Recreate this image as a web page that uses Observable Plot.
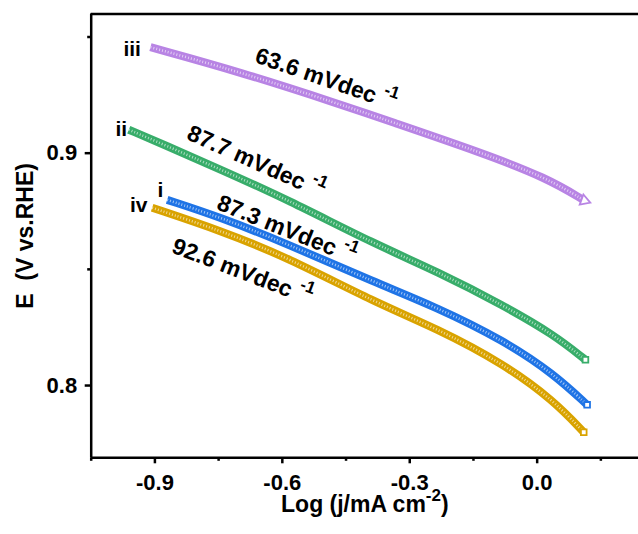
<!DOCTYPE html>
<html><head><meta charset="utf-8">
<script src="https://cdn.jsdelivr.net/npm/d3@7"></script>
<script src="https://cdn.jsdelivr.net/npm/@observablehq/plot@0.6"></script>
<style>body{margin:0;background:#fff;}</style>
</head><body><div id="chart"></div>
<script>
// ---- data ----
const series = ["i", "ii", "iii", "iv"];
const seriesColors = ["#1f74e6", "#38ad6a", "#b884e4", "#d9a300"];

const logJ_i   = [-0.8712, -0.7457, -0.5887, -0.3807, -0.2355, -0.0786, 0.0391, 0.1177];
const E_i      = [0.8799, 0.8724, 0.8610, 0.8443, 0.8336, 0.8194, 0.8050, 0.7917];
const logJ_ii  = [-0.9616, -0.8792, -0.7457, -0.5887, -0.3807, -0.2355, -0.0786, 0.0391, 0.1137];
const E_ii     = [0.9101, 0.9037, 0.8930, 0.8801, 0.8607, 0.8491, 0.8344, 0.8219, 0.8111];
const logJ_iii = [-0.9105, -0.6986, -0.4632, -0.3532, -0.1335, 0.0235, 0.1114];
const E_iii    = [0.9456, 0.9349, 0.9210, 0.9141, 0.9004, 0.8893, 0.8796];
const logJ_iv  = [-0.9065, -0.7457, -0.5887, -0.3807, -0.2355, -0.0786, 0.0391, 0.1097];
const E_iv     = [0.8765, 0.8667, 0.8552, 0.8357, 0.8245, 0.8093, 0.7935, 0.7799];

const slopeLabels     = ["87.3 mVdec ^{-1}", "87.7 mVdec ^{-1}", "63.6 mVdec ^{-1}", "92.6 mVdec ^{-1}"];
const slopeLabelLogJ  = [-0.7575, -0.8281, -0.6673, -0.8630];
const slopeLabelE     = [0.8761, 0.9062, 0.9392, 0.8574];
const slopeLabelAngle = [22, 24, 19, 21];

const nameLabelLogJ = [-0.8870, -0.9654, -0.9329, -0.9176];
const nameLabelE    = [0.8811, 0.9076, 0.9420, 0.8746];
const nameAnchor    = ["middle", "end", "end", "end"];

const xMajorTicks = [-0.9, -0.6, -0.3, 0.0];
const xMinorTicks = [-1.05, -0.75, -0.45, -0.15, 0.15];
const yMajorTicks = [0.8, 0.9];
const yMinorTicks = [0.85, 0.95];
const xDomain = [-1.05, 0.2386];
const yDomain = [0.7689, 0.9599];
const xTitle = "Log (j/mA cm^{-2})";
const yTitle = "E  (V vs.RHE)";

// ---- build tables ----
const logJs = [logJ_i, logJ_ii, logJ_iii, logJ_iv];
const Es = [E_i, E_ii, E_iii, E_iv];
const rows = [];
series.forEach((s, k) => logJs[k].forEach((x, j) => rows.push({series: s, logJ: x, E: Es[k][j]})));
const lastRows = series.map((s, k) => ({series: s, logJ: logJs[k][logJs[k].length - 1], E: Es[k][Es[k].length - 1]}));
const slopeRows = series.map((s, k) => ({series: s, text: slopeLabels[k], logJ: slopeLabelLogJ[k], E: slopeLabelE[k], angle: slopeLabelAngle[k]}));
const nameRows = series.map((s, k) => ({series: s, logJ: nameLabelLogJ[k], E: nameLabelE[k], anchor: nameAnchor[k]}));

const font = "Liberation Sans, Arial, Helvetica, sans-serif";

const chart = Plot.plot({
  width: 638, height: 534,
  marginLeft: 90.7, marginRight: 0, marginTop: 13.5, marginBottom: 76.7,
  x: {domain: xDomain, label: null},
  y: {domain: yDomain, label: null},
  color: {domain: series, range: seriesColors},
  style: {fontFamily: font, background: "white", color: "black", overflow: "visible"},
  marks: [
    Plot.line(rows, {x: "logJ", y: "E", z: "series", stroke: "series", strokeWidth: 8, curve: "basis", strokeLinecap: "butt"}),
    Plot.line(rows, {x: "logJ", y: "E", z: "series", stroke: "white", strokeWidth: 2.6, strokeDasharray: "1 2", strokeOpacity: 0.6, curve: "basis", strokeLinecap: "butt"}),
    Plot.dot(lastRows.filter(d => d.series !== "iii"), {x: "logJ", y: "E", symbol: "square", r: 3.2, stroke: "series", fill: "white", strokeWidth: 1.8}),
    Plot.dot(lastRows.filter(d => d.series === "iii"), {x: "logJ", y: "E", symbol: "triangle", r: 4, stroke: "series", fill: "white", strokeWidth: 1.8, rotate: 110}),
    Plot.ruleX([xDomain[0]], {strokeWidth: 2.5}),
    Plot.ruleY([yDomain[0]], {strokeWidth: 2.5}),
    Plot.ruleY([yDomain[1]], {strokeWidth: 2.5}),
    Plot.axisX({ticks: xMajorTicks, tickSize: 6, tickPadding: 10.5, strokeWidth: 2.5, tickFormat: d => d.toFixed(1), fontSize: 22, fontWeight: "bold", label: null}),
    Plot.axisX({ticks: xMinorTicks, tickSize: 3.5, strokeWidth: 2.5, text: null, label: null}),
    Plot.axisY({ticks: yMajorTicks, tickSize: 6, tickPadding: 8, strokeWidth: 2.5, tickFormat: d => d.toFixed(1), fontSize: 22, fontWeight: "bold", label: null}),
    Plot.axisY({ticks: yMinorTicks, tickSize: 3.5, strokeWidth: 2.5, text: null, label: null}),
    Plot.text(nameRows.filter(d => d.anchor === "end"), {x: "logJ", y: "E", text: "series", textAnchor: "end", lineAnchor: "bottom", fontSize: 21, fontWeight: "bold", fill: "black"}),
    Plot.text(nameRows.filter(d => d.anchor === "middle"), {x: "logJ", y: "E", text: "series", textAnchor: "middle", lineAnchor: "bottom", fontSize: 21, fontWeight: "bold", fill: "black"}),
    Plot.text(slopeRows, {x: "logJ", y: "E", text: "text", rotate: "angle", textAnchor: "start", lineAnchor: "bottom", fontSize: 23, fontWeight: "bold", fill: "black"}),
    Plot.text([xTitle], {frameAnchor: "bottom", text: d => d, textAnchor: "middle", dy: 54.5, lineAnchor: "bottom", fontSize: 23, fontWeight: "bold", fill: "black"}),
    Plot.text([yTitle], {frameAnchor: "left", text: d => d, textAnchor: "middle", rotate: -90, dx: -58.5, lineAnchor: "bottom", fontSize: 23, fontWeight: "bold", fill: "black"})
  ]
});

document.getElementById("chart").appendChild(chart);

// superscript markup ^{...} -> tspans
function applySuperscripts(svg) {
  const NS = "http://www.w3.org/2000/svg";
  svg.querySelectorAll("text").forEach(el => {
    const t = el.textContent;
    if (!t.includes("^{")) return;
    const fs = parseFloat(getComputedStyle(el).fontSize) || 22;
    const raise = 0.5 * fs;
    while (el.firstChild) el.removeChild(el.firstChild);
    const parts = t.split(/(\^\{[^}]*\})/).filter(p => p.length);
    let raised = false;
    parts.forEach(p => {
      const ts = document.createElementNS(NS, "tspan");
      if (p.startsWith("^{")) {
        ts.textContent = p.slice(2, -1);
        ts.setAttribute("font-size", (0.74 * fs).toFixed(1));
        ts.setAttribute("dy", (-raise).toFixed(1));
        raised = true;
      } else {
        ts.textContent = p;
        if (raised) { ts.setAttribute("dy", raise.toFixed(1)); raised = false; }
      }
      el.appendChild(ts);
    });
  });
}
applySuperscripts(chart);
</script>
</body></html>
